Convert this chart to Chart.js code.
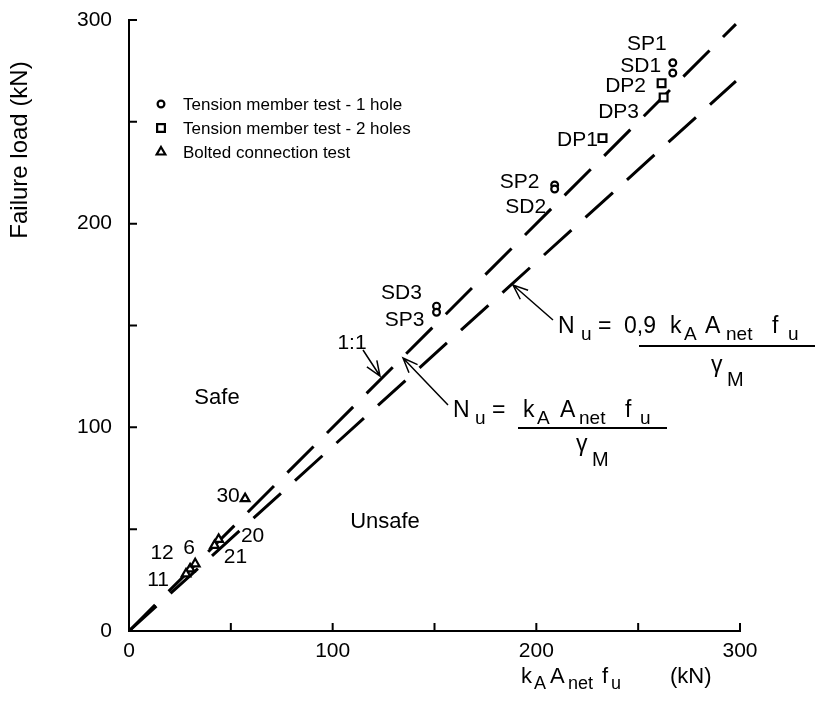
<!DOCTYPE html>
<html>
<head>
<meta charset="utf-8">
<script src="https://cdn.jsdelivr.net/npm/chart.js@4.4.1/dist/chart.umd.min.js"></script>
<style>
  html, body { margin: 0; padding: 0; background: #fff; }
  #wrap { width: 818px; height: 717px; }
</style>
</head>
<body>
<div id="wrap"><canvas id="myChart" width="818" height="717"></canvas></div>
<script>
var FONT = "'Liberation Sans', Arial, sans-serif";

// tension member test - 1 hole
var hole1Names = ["SP1", "SD1", "SP2", "SD2", "SD3", "SP3"];
var hole1X = [267, 267, 209, 209, 151, 151];
var hole1Y = [279, 274, 219, 217, 159.5, 156.5];

// tension member test - 2 holes
var hole2Names = ["DP2", "DP3", "DP1"];
var hole2X = [261.5, 262.5, 232.5];
var hole2Y = [269, 262, 242];

// bolted connection test
var boltNames = ["30", "20", "21", "12", "6", "11"];
var boltX = [57, 44, 42, 30, 32.5, 28];
var boltY = [65, 45, 42, 30.5, 33, 28];

// design lines
var lineX = [0, 298];
var line11Y = [0, 298];   // 1:1
var line09Y = [0, 270];   // 0,9

var axisMax = 300;
var tickStep = 50;
var labelStep = 100;

// where each point label sits, relative to its point (px)
var labelOffset = {
    SP1: [-26, -19], SD1: [-32, -7], SP2: [-35, -3], SD2: [-29, 18],
    SD3: [-35, -13], SP3: [-32, 8],
    DP2: [-36, 3], DP3: [-45, 15], DP1: [-25, 2],
    "30": [-17, -2], "20": [34, -3], "21": [21, 12],
    "12": [-28, -16], "6": [-6, -16], "11": [-28, 6]
};

function toPoints(xs, ys) {
    return xs.map(function (x, i) { return { x: x, y: ys[i] }; });
}

// pieces: [text, x, isSub]
function drawPieces(ctx, pieces, y, size, subSize, subDrop) {
    pieces.forEach(function (p) {
        ctx.font = (p[2] ? subSize : size) + "px " + FONT;
        ctx.fillText(p[0], p[1], y + (p[2] ? subDrop : 0));
    });
}

function arrow(ctx, x1, y1, x2, y2) {
    var a = Math.atan2(y2 - y1, x2 - x1);
    var len = 16, spread = 0.38;
    ctx.beginPath();
    ctx.moveTo(x1, y1);
    ctx.lineTo(x2, y2);
    ctx.moveTo(x2 - len * Math.cos(a - spread), y2 - len * Math.sin(a - spread));
    ctx.lineTo(x2, y2);
    ctx.lineTo(x2 - len * Math.cos(a + spread), y2 - len * Math.sin(a + spread));
    ctx.stroke();
}

var extras = {
    id: "extras",
    afterDraw: function (chart) {
        var ctx = chart.ctx;
        var xs = chart.scales.x, ys = chart.scales.y;
        ctx.save();
        ctx.fillStyle = "#000";
        ctx.strokeStyle = "#000";

        // inward tick marks
        ctx.lineWidth = 2;
        ctx.beginPath();
        xs.ticks.forEach(function (t) {
            var px = xs.getPixelForValue(t.value);
            ctx.moveTo(px, xs.top);
            ctx.lineTo(px, xs.top - 8);
        });
        ys.ticks.forEach(function (t) {
            var py = ys.getPixelForValue(t.value);
            ctx.moveTo(ys.right, py);
            ctx.lineTo(ys.right + 8, py);
        });
        ctx.stroke();

        // point labels
        ctx.font = "21px " + FONT;
        ctx.textAlign = "center";
        ctx.textBaseline = "middle";
        [[hole1Names, hole1X, hole1Y], [hole2Names, hole2X, hole2Y], [boltNames, boltX, boltY]].forEach(function (g) {
            g[0].forEach(function (name, i) {
                var off = labelOffset[name];
                ctx.fillText(name, xs.getPixelForValue(g[1][i]) + off[0], ys.getPixelForValue(g[2][i]) + off[1]);
            });
        });
        ctx.fillText("1:1", 352, 343);
        ctx.font = "22px " + FONT;
        ctx.fillText("Safe", 217, 398);
        ctx.fillText("Unsafe", 385, 522);

        // legend
        var leg = [["circle", 3.4, "Tension member test - 1 hole"],
                   ["rect", 5.5, "Tension member test - 2 holes"],
                   ["triangle", 5, "Bolted connection test"]];
        ctx.textAlign = "left";
        ctx.font = "17px " + FONT;
        leg.forEach(function (l, i) {
            var y = 104 + i * 24;
            ctx.fillStyle = "#fff";
            ctx.lineWidth = 2.2;
            Chart.helpers.drawPoint(ctx, { pointStyle: l[0], radius: l[1], borderWidth: 2.2, rotation: 0 }, 161, y);
            ctx.fillStyle = "#000";
            ctx.fillText(l[2], 183, y + 1);
        });

        // arrows
        ctx.lineWidth = 1.5;
        arrow(ctx, 553, 320, 513, 285);
        arrow(ctx, 448, 405, 403, 358);
        arrow(ctx, 363, 350, 380, 376);

        // formulas
        ctx.textBaseline = "alphabetic";
        drawPieces(ctx, [["N", 558, 0], ["u", 581, 1], ["=", 598, 0], ["0,9", 624, 0], ["k", 670, 0],
                         ["A", 684, 1], ["A", 705, 0], ["net", 726, 1], ["f", 772, 0], ["u", 788, 1]], 333, 23, 19, 7);
        ctx.lineWidth = 2;
        ctx.beginPath(); ctx.moveTo(639, 346); ctx.lineTo(815, 346); ctx.stroke();
        drawPieces(ctx, [["\u03b3", 711, 0], ["M", 727, 1]], 372, 23, 20, 14);

        drawPieces(ctx, [["N", 453, 0], ["u", 475, 1], ["=", 492, 0], ["k", 523, 0], ["A", 537, 1],
                         ["A", 560, 0], ["net", 579, 1], ["f", 625, 0], ["u", 640, 1]], 417, 23, 19, 7);
        ctx.beginPath(); ctx.moveTo(518, 428); ctx.lineTo(667, 428); ctx.stroke();
        drawPieces(ctx, [["\u03b3", 576, 0], ["M", 592, 1]], 451, 23, 20, 15);

        // axis titles
        drawPieces(ctx, [["k", 521, 0], ["A", 534, 1], ["A", 550, 0], ["net", 568, 1], ["f", 602, 0],
                         ["u", 611, 1], ["(kN)", 670, 0]], 683, 22, 18, 6);
        ctx.translate(27, 150);
        ctx.rotate(-Math.PI / 2);
        ctx.textAlign = "center";
        ctx.font = "24px " + FONT;
        ctx.fillText("Failure load (kN)", 0, 0);
        ctx.restore();
    }
};

var lineStyle = {
    showLine: true, pointRadius: 0, borderColor: "#000", borderWidth: 3,
    borderDash: [37, 19], borderCapStyle: "butt", fill: false
};
var markStyle = { borderColor: "#000", backgroundColor: "#fff", borderWidth: 2.2 };

new Chart("myChart", {
    type: "scatter",
    data: {
        datasets: [
            Object.assign({ data: toPoints(hole1X, hole1Y), pointStyle: "circle", pointRadius: 3.4 }, markStyle),
            Object.assign({ data: toPoints(hole2X, hole2Y), pointStyle: "rect", pointRadius: 5.5 }, markStyle),
            Object.assign({ data: toPoints(boltX, boltY), pointStyle: "triangle", pointRadius: 5 }, markStyle),
            Object.assign({ data: toPoints(lineX, line11Y) }, lineStyle),
            Object.assign({ data: toPoints(lineX, line09Y) }, lineStyle)
        ]
    },
    options: {
        responsive: false,
        animation: false,
        layout: { padding: { top: 20, right: 78, left: 0, bottom: 0 } },
        plugins: { legend: { display: false }, tooltip: { enabled: false } },
        scales: {
            x: {
                min: 0, max: axisMax,
                afterFit: function (s) { s.height = 86; s.paddingLeft = 0; s.paddingRight = 0; },
                grid: { display: true, drawOnChartArea: false, drawTicks: false },
                border: { display: true, color: "#000", width: 2 },
                ticks: {
                    stepSize: tickStep, padding: 8, color: "#000", maxRotation: 0,
                    font: { family: FONT, size: 21 },
                    callback: function (v) { return v % labelStep === 0 ? v : ""; }
                }
            },
            y: {
                min: 0, max: axisMax,
                afterFit: function (s) { s.width = 129; s.paddingTop = 0; s.paddingBottom = 0; },
                grid: { display: true, drawOnChartArea: false, drawTicks: false },
                border: { display: true, color: "#000", width: 2 },
                ticks: {
                    stepSize: tickStep, padding: 17, color: "#000",
                    font: { family: FONT, size: 21 },
                    callback: function (v) { return v % labelStep === 0 ? v : ""; }
                }
            }
        }
    },
    plugins: [extras]
});
</script>
</body>
</html>
